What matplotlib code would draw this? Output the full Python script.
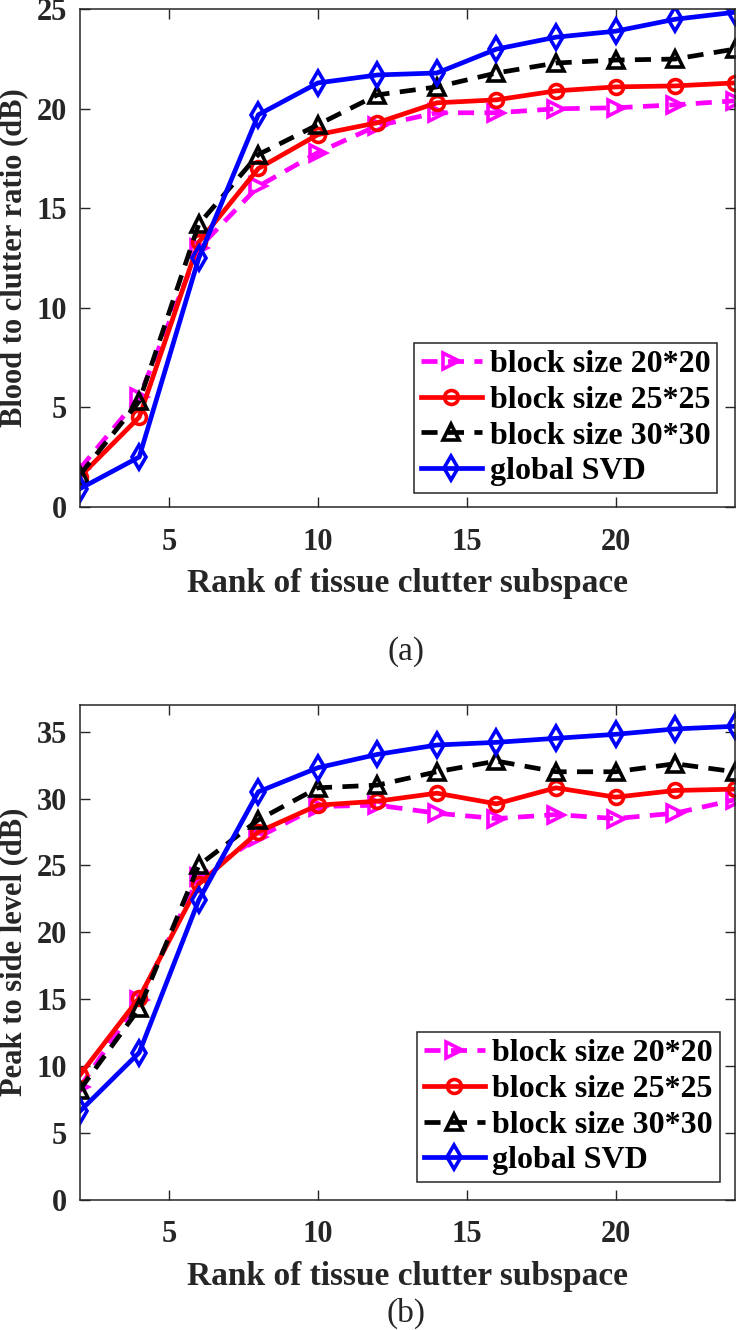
import numpy as np
import matplotlib
matplotlib.use("Agg")
import matplotlib.pyplot as plt

plt.rcParams['font.family'] = ['Liberation Serif', 'DejaVu Serif']
plt.rcParams['font.weight'] = 'bold'
plt.rcParams['axes.labelweight'] = 'bold'
plt.rcParams['font.size'] = 22

# rank of the tissue clutter subspace
rank = [2, 4, 6, 8, 10, 12, 14, 16, 18, 20, 22, 24]

# (a) blood to clutter ratio (dB)
bcr_20 = [1.9, 5.5, 13.0, 16.1, 17.8, 19.15, 19.8, 19.8, 20.0, 20.05, 20.2, 20.4]
bcr_25 = [1.5, 4.5, 13.3, 17.0, 18.7, 19.3, 20.3, 20.45, 20.9, 21.1, 21.15, 21.3]
bcr_30 = [1.6, 5.3, 14.2, 17.7, 19.2, 20.7, 21.1, 21.8, 22.3, 22.45, 22.5, 23.0]
bcr_svd = [0.9, 2.5, 12.5, 19.7, 21.3, 21.7, 21.8, 23.0, 23.6, 23.9, 24.5, 24.85]

# (b) peak to side level (dB)
psl_20 = [8.4, 14.9, 24.1, 27.1, 29.4, 29.5, 28.9, 28.5, 28.8, 28.5, 28.9, 29.9]
psl_25 = [9.3, 15.1, 23.6, 27.5, 29.5, 29.8, 30.4, 29.6, 30.8, 30.1, 30.6, 30.7]
psl_30 = [8.2, 14.3, 25.0, 28.4, 30.8, 31.0, 32.0, 32.8, 32.0, 32.0, 32.6, 32.0]
psl_svd = [6.6, 11.0, 22.4, 30.5, 32.3, 33.3, 34.0, 34.2, 34.5, 34.8, 35.2, 35.4]

labels = ["block size 20*20", "block size 25*25", "block size 30*30", "global SVD"]
tick_col = "#262626"

fig = plt.figure(figsize=(7.45, 13.3), dpi=100)
ax1 = fig.add_axes([0.107, 0.619, 0.879, 0.374])
ax2 = fig.add_axes([0.107, 0.098, 0.879, 0.372])


def draw(ax, s20, s25, s30, ssvd, ylim, yticks, ylabel, leg_anchor):
    ax.plot(rank, s20, color="magenta", ls="--", dashes=(3.4, 2.2), lw=3.4,
            marker=">", ms=11, mfc="none", mew=2.6, label=labels[0])
    ax.plot(rank, s25, color="red", ls="-", lw=3.4,
            marker="o", ms=10, mfc="none", mew=2.6, label=labels[1])
    ax.plot(rank, s30, color="black", ls="--", dashes=(3.4, 2.2), lw=3.4,
            marker="^", ms=11, mfc="none", mew=2.6, label=labels[2])
    ax.plot(rank, ssvd, color="blue", ls="-", lw=3.4,
            marker="d", ms=12, mfc="none", mew=2.6, label=labels[3])
    ax.set_xlim(2, 24)
    ax.set_ylim(*ylim)
    ax.set_xticks([5, 10, 15, 20])
    ax.set_yticks(yticks)
    ax.tick_params(direction="in", length=7, width=1, top=True, right=True,
                   colors=tick_col, labelsize=22)
    ax.tick_params(axis="x", pad=15)
    ax.tick_params(axis="y", pad=9)
    for sp in ax.spines.values():
        sp.set_color(tick_col)
        sp.set_linewidth(1.1)
    ax.set_xlabel("Rank of tissue clutter subspace", fontsize=24,
                  color=tick_col, labelpad=8)
    ax.set_ylabel(ylabel, fontsize=22, color=tick_col, labelpad=6)
    leg = ax.legend(loc="lower right", bbox_to_anchor=leg_anchor,
                    fontsize=23, handlelength=1.9, handletextpad=0.25,
                    borderpad=0.2, labelspacing=0.2, borderaxespad=0,
                    fancybox=False, framealpha=1, edgecolor=tick_col)
    leg.get_frame().set_linewidth(1.1)
    for t in leg.get_texts():
        t.set_color("black")


draw(ax1, bcr_20, bcr_25, bcr_30, bcr_svd, (0, 25), [0, 5, 10, 15, 20, 25],
     "Blood to clutter ratio (dB)", (0.9725, 0.028))
draw(ax2, psl_20, psl_25, psl_30, psl_svd, (0, 37),
     [0, 5, 10, 15, 20, 25, 30, 35], "Peak to side level (dB)", (0.977, 0.036))

fig.text(0.545, 1 - 652 / 1330, "(a)", ha="center", va="center",
         fontsize=24, fontweight="normal", color=tick_col)
fig.text(0.545, 1 - 1313 / 1330, "(b)", ha="center", va="center",
         fontsize=24, fontweight="normal", color=tick_col)

fig.savefig("out.png", dpi=100)
